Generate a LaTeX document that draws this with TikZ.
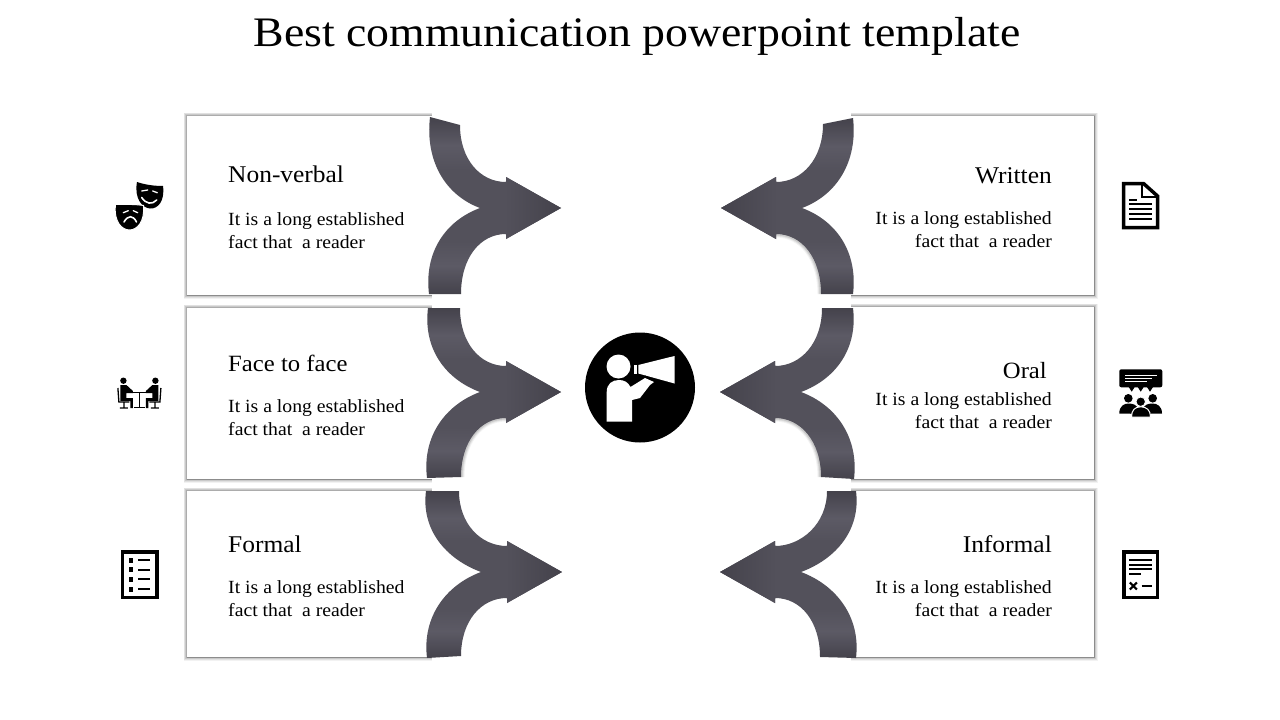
\documentclass[tikz,border=0pt]{standalone}
\usepackage{fontspec}
\setmainfont[FakeStretch=1.06]{Liberation Serif}
\newfontfamily\titlef[FakeStretch=1.09]{Liberation Serif}
\definecolor{ad}{HTML}{44424B}
\definecolor{al}{HTML}{5C5A65}
\definecolor{am}{HTML}{53515B}
\pgfdeclareverticalshading{arrowv}{100bp}{color(0bp)=(ad);color(25bp)=(ad);color(33bp)=(al);color(40bp)=(am);color(60bp)=(am);color(67bp)=(al);color(75bp)=(ad);color(100bp)=(ad)}
% open shadowed frames: left boxes have no right edge, right boxes no left edge
\newcommand{\boxleft}[4]{%
  \foreach \w/\o in {7/.05,5.5/.07,4/.1,2.5/.14,1/.18}{\draw[line width=\w pt,black,opacity=\o] (#3,#2) -- (#1,#2) -- (#1,#4) -- (#3,#4);}
  \fill[white] (#1,#2) rectangle (#3,#4);}
\newcommand{\boxright}[4]{%
  \foreach \w/\o in {7/.05,5.5/.07,4/.1,2.5/.14,1/.18}{\draw[line width=\w pt,black,opacity=\o] (#1,#2) -- (#3,#2) -- (#3,#4) -- (#1,#4);}
  \fill[white] (#1,#2) rectangle (#3,#4);}
\newcommand{\softcurve}[5]{%
\begin{scope}[shift={(#1,#2)},xscale=#3]
  \foreach \w/\o in {7/.05,5/.07,3/.1}{\draw[line width=\w pt,black,opacity=\o] (#4,#5) .. controls (#4,{#5*.4+15.6}) and (81,26) .. (55,26);}
\end{scope}}
% tipx mid dir | top: outer u, outer y, inner u, inner y | bottom: outer u, outer y, inner u, inner y
\newcommand{\bigarrow}[9]{\def\aT{#1}\def\aM{#2}\def\aD{#3}\def\aA{#4}\def\aB{#5}\def\aC{#6}\def\aE{#7}\def\aF{#8}\def\aG{#9}\bigarrowrest}
\newcommand{\bigarrowrest}[2]{%
\ifnum\aD<0 \colorlet{cl}{am}\colorlet{cr}{ad}\else\colorlet{cl}{ad}\colorlet{cr}{am}\fi
\begin{scope}[shift={(\aT,\aM)},xscale=\aD]
  \begin{scope}
  \clip (0,0) -- (55,-31) -- (55,-26) .. controls (81,-26) and (\aC,{\aE*.4-15.6}) .. (\aC,\aE) -- (\aA,\aB)
     .. controls ({\aA+5},{\aB*.52}) and (116,-13) .. (81,0)
     .. controls (116,13) and ({\aF+5},{\aG*.52}) .. (\aF,\aG) -- (#1,#2)
     .. controls (#1,{#2*.4+15.6}) and (81,26) .. (55,26) -- (55,31) -- cycle;
  \path[shading=arrowv] (-2,{min(\aB,\aE)}) rectangle (140,{max(\aG,#2)});
  \path[left color=cl,right color=cr] (-1,-32) rectangle (56,32);
  \end{scope}
\end{scope}}
\begin{document}
\begin{tikzpicture}[x=1pt,y=-1pt,
  head/.style={font=\fontsize{24}{28}\selectfont,inner sep=0pt},
  bodyl/.style={font=\fontsize{18.6}{23}\selectfont,inner sep=0pt,align=left},
  bodyr/.style={font=\fontsize{18.6}{23}\selectfont,inner sep=0pt,align=right},
  ln/.style={line width=2pt,line cap=butt},
  ol/.style={line width=3.5pt,miter limit=10},
  wl/.style={white,line width=1.3pt,line cap=round}]
\useasboundingbox (0,0) rectangle (1280,720);
\fill[white] (0,0) rectangle (1280,720);
\node[font=\titlef\fontsize{42}{46}\selectfont,inner sep=0pt,anchor=base] (title) at (637,46) {Best communication powerpoint template};
% boxes
\boxleft{187}{116}{432}{295}
\boxleft{187}{308}{432}{479}
\boxleft{187}{491}{432}{657}
\boxright{851}{116}{1094}{295}
\boxright{851}{307}{1094}{479}
\boxright{851}{491}{1094}{657}
% soft shadows under a few arrow curves
\softcurve{561}{392}{-1}{100}{85}
\softcurve{721}{208}{1}{100}{86}
\softcurve{720}{392}{1}{101}{85}
% arrows
\bigarrow{561}{208}{-1}{131}{-91}{101}{-83}{132}{86}{100}{86}
\bigarrow{561}{392}{-1}{133}{-84}{101}{-84}{134}{86}{100}{85}
\bigarrow{562}{572}{-1}{136}{-81}{103}{-81}{135}{86}{101}{84}
\bigarrow{721}{208}{1}{132}{-90}{102}{-84}{132}{86}{100}{86}
\bigarrow{720}{392}{1}{133}{-84}{102}{-84}{134}{87}{101}{85}
\bigarrow{720}{572}{1}{136}{-81}{107}{-81}{136}{86}{100}{85}
% texts
\node[head,anchor=base west] (t1) at (228,182) {Non-verbal};
\node[head,anchor=base west,font=\fontsize{23.3}{28}\selectfont] (t2) at (228,371) {Face to face};
\node[head,anchor=base west] (t3) at (228,552) {Formal};
\node[head,anchor=base east] (t4) at (1052,183) {Written};
\node[head,anchor=base east,font=\fontsize{23.3}{28}\selectfont] (t5) at (1047,378) {Oral};
\node[head,anchor=base east] (t6) at (1052,552) {Informal};
\node[bodyl,anchor=north west] (b1) at (228,212) {It is a long established\\fact that\ \ a reader};
\node[bodyl,anchor=north west] (b2) at (228,399) {It is a long established\\fact that\ \ a reader};
\node[bodyl,anchor=north west] (b3) at (228,580) {It is a long established\\fact that\ \ a reader};
\node[bodyr,anchor=north east] (b4) at (1052,211) {It is a long established\\fact that\ \ a reader};
\node[bodyr,anchor=north east] (b5) at (1052,392) {It is a long established\\fact that\ \ a reader};
\node[bodyr,anchor=north east] (b6) at (1052,580) {It is a long established\\fact that\ \ a reader};
% centre icon
\fill (640,387.5) circle (55);
\fill[white] (618.5,366.5) circle (12);
\fill[white] (606.7,421.7) -- (606.7,392) .. controls (606.7,384) and (612,380) .. (619,380) .. controls (624,380) and (628,382) .. (630.5,387) -- (645,378) -- (654,382) -- (650,385) -- (640,398) -- (632,400) -- (632,421.7) -- cycle;
\fill[white] (638.3,365) -- (674.5,356) -- (674.5,383.5) -- (638.3,373.5) -- cycle;
\fill[white] (634.3,365) rectangle (637,373.5);
\draw[black,line width=.8pt] (645,376) -- (658,381.5);
% masks
\fill (137,182) .. controls (146,185) and (155,186) .. (163,186) .. controls (165,201) and (158,209) .. (150,208.5) .. controls (142,208) and (134,198) .. (137,182) -- cycle;
\draw[wl] (141.7,191) -- (147.7,190) (152.7,191) -- (157.3,192.7);
\draw[wl,line width=1.6pt] (141.7,197.5) .. controls (146,204) and (152,205) .. (156.7,200);
\filldraw[draw=white,line width=1pt,fill=black] (115.5,204.5) .. controls (125,204.5) and (134,204) .. (143.5,205.5) .. controls (145,222) and (137,230) .. (129.5,230) .. controls (122,230) and (113.5,222) .. (115.5,204.5) -- cycle;
\draw[wl] (123.3,212.7) -- (128.3,210.7) (133.3,210.7) -- (137.7,212.7);
\draw[wl,line width=1.6pt] (124,222) .. controls (128,215) and (133,215) .. (136.5,222);
% meeting
\foreach \m in {1,-1}{
\begin{scope}[shift={(139.4,0)},xscale=\m]
\fill (-16,380.7) circle (3.2);
\fill (-19,385) -- (-13,385) -- (-6.5,391) -- (-6.5,393) -- (-13,393) -- (-13,398) -- (-6.5,398) -- (-6.5,408) -- (-9,408) -- (-9,401) -- (-19,401) -- cycle;
\draw[line width=1.3pt] (-21.5,388) -- (-20.5,402) -- (-10,402) (-15.5,402) -- (-15.5,407.5) (-19.5,408) -- (-11.5,408);
\draw[line width=1.5pt] (0,392.7) -- (-11,392.7);
\end{scope}}
\draw[line width=1.8pt] (139.4,392.7) -- (139.4,407);
\draw[line width=1.3pt] (134,407.5) -- (144.5,407.5);
% list
\draw[ol] (122.7,552) rectangle (157,597.5);
\foreach \y in {560,569.7,579.3,589}{\fill (129,{\y-2.5}) rectangle (133.4,{\y+2.5}); \draw[ln] (138.3,\y) -- (150,\y);}
% document
\draw[ol,line join=miter] (1143.5,183.5) -- (1123.5,183.5) -- (1123.5,227.5) -- (1157.5,227.5) -- (1157.5,196) -- cycle;
\draw[line width=2pt] (1142,183) -- (1142,196.5) -- (1158,196.5);
\draw[ln] (1129.3,200) -- (1137.3,200);
\foreach \y in {204.3,209.3,214.3,219.3}{\draw[ln] (1129.3,\y) -- (1151.7,\y);}
% audience
\fill[rounded corners=2pt] (1119.3,369.3) rectangle (1162.3,387.3);
\foreach \x in {1131.7,1140.7,1150}{\fill ({\x-3},387) -- ({\x+3},387) -- (\x,391.7) -- cycle;}
\draw[white,line width=.9pt] (1125,375) -- (1156.7,375) (1125,378.3) -- (1151.7,378.3) (1125,381.7) -- (1146.7,381.7);
\fill (1128.3,398.3) circle (4.3) (1152.7,398.3) circle (4.3);
\fill (1119.3,413.5) .. controls (1119.3,406) and (1124,403.5) .. (1128.5,403.5) .. controls (1133,403.5) and (1137,405) .. (1138,409) -- (1131,414) -- (1130,413.5) -- cycle;
\fill (1162,413.5) .. controls (1162,406) and (1157,403.5) .. (1152.5,403.5) .. controls (1148,403.5) and (1144,405) .. (1143,409) -- (1150,414) -- (1151,413.5) -- cycle;
\filldraw[draw=white,line width=1pt,fill=black] (1131.5,417) .. controls (1131.5,410) and (1135,406.8) .. (1140.8,406.8) .. controls (1146.5,406.8) and (1150.5,410) .. (1150.5,417) -- cycle;
\filldraw[draw=white,line width=.8pt,fill=black] (1140.7,401.7) circle (4.7);
% report
\draw[ol] (1124,552) rectangle (1157.5,597.5);
\foreach \y in {560,564.7,569.3}{\draw[ln] (1129.3,\y) -- (1151.7,\y);}
\draw[ln] (1129.3,574.3) -- (1140.7,574.3);
\draw[line width=2.2pt] (1129.8,582.5) -- (1136.8,589.5) (1136.8,582.5) -- (1129.8,589.5);
\draw[ln] (1141.7,586) -- (1151.7,586);
\end{tikzpicture}
\end{document}
